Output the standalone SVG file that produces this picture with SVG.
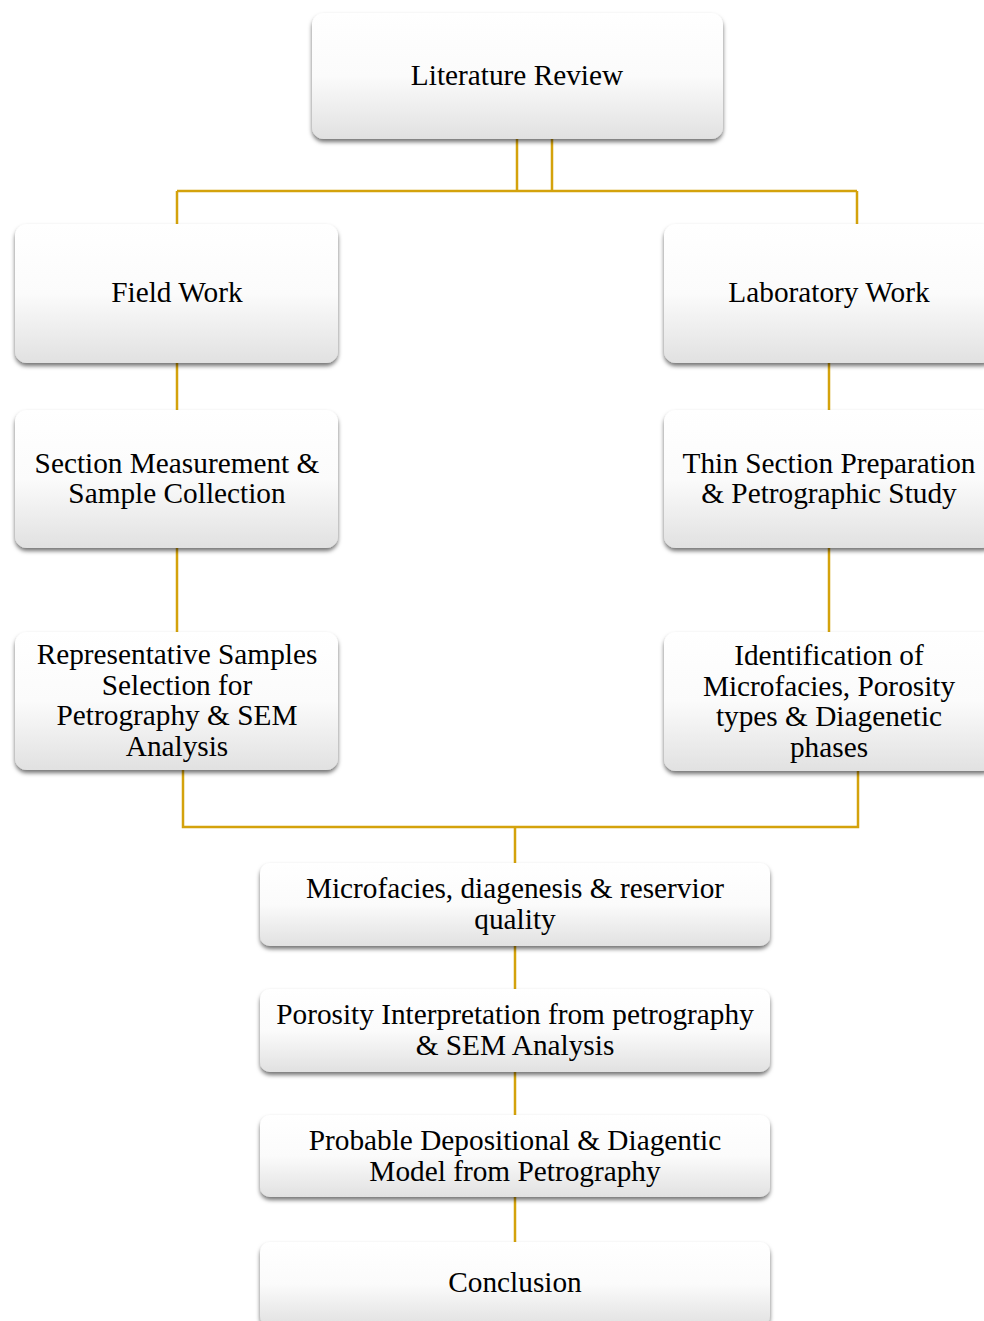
<svg xmlns="http://www.w3.org/2000/svg" width="984" height="1321" viewBox="0 0 984 1321">
<defs>
<linearGradient id="g" x1="0" y1="0" x2="0" y2="1">
<stop offset="0" stop-color="#ffffff"/>
<stop offset="0.5" stop-color="#fbfbfb"/>
<stop offset="1" stop-color="#e1e1e1"/>
</linearGradient>
<filter id="sh" x="-5%" y="-10%" width="110%" height="125%">
<feDropShadow dx="0" dy="3" stdDeviation="2" flood-color="#000" flood-opacity="0.55"/>
</filter>
</defs>
<style>
.box{fill:url(#g);filter:url(#sh);}
.t{font-family:"Liberation Serif","Times New Roman",serif;font-size:29.3px;fill:#000;text-anchor:middle;}
.c{fill:none;stroke:#D4A20C;stroke-width:2.5;}
</style>
<rect width="984" height="1321" fill="#fff"/>
<g id="connectors">
<path class="c" d="M517 139 V191 M552 139 V191 M177 191 H857 M177 191 V224 M857 191 V224"/>
<path class="c" d="M177 363 V410 M177 548 V632"/>
<path class="c" d="M829 363 V410 M829 548 V632"/>
<path class="c" d="M183 770 V827 H858 V771 M515 827 V863"/>
<path class="c" d="M515 946 V989 M515 1072 V1115 M515 1197 V1242"/>
</g>
<g id="n-lit">
<rect class="box" x="312" y="13" width="411" height="126" rx="12"/>
<text class="t" x="517" y="85">Literature Review</text>
</g>
<g id="n-field">
<rect class="box" x="15" y="224" width="323" height="139" rx="12"/>
<text class="t" x="177" y="302">Field Work</text>
</g>
<g id="n-lab">
<rect class="box" x="664" y="224" width="330" height="139" rx="12"/>
<text class="t" x="829" y="302">Laboratory Work</text>
</g>
<g id="n-section">
<rect class="box" x="15" y="410" width="323" height="138" rx="12"/>
<text class="t" x="177" y="473">Section Measurement &amp;</text>
<text class="t" x="177" y="503">Sample Collection</text>
</g>
<g id="n-thin">
<rect class="box" x="664" y="410" width="330" height="138" rx="12"/>
<text class="t" x="829" y="473">Thin Section Preparation</text>
<text class="t" x="829" y="503">&amp; Petrographic Study</text>
</g>
<g id="n-rep">
<rect class="box" x="15" y="632" width="323" height="138" rx="12"/>
<text class="t" x="177" y="664">Representative Samples</text>
<text class="t" x="177" y="694.5">Selection for</text>
<text class="t" x="177" y="725">Petrography &amp; SEM</text>
<text class="t" x="177" y="755.5">Analysis</text>
</g>
<g id="n-ident">
<rect class="box" x="664" y="632" width="330" height="139" rx="12"/>
<text class="t" x="829" y="665">Identification of</text>
<text class="t" x="829" y="695.5">Microfacies, Porosity</text>
<text class="t" x="829" y="726">types &amp; Diagenetic</text>
<text class="t" x="829" y="756.5">phases</text>
</g>
<g id="n-micro">
<rect class="box" x="260" y="863" width="510" height="83" rx="10"/>
<text class="t" x="515" y="898">Microfacies, diagenesis &amp; reservior</text>
<text class="t" x="515" y="929">quality</text>
</g>
<g id="n-poro">
<rect class="box" x="260" y="989" width="510" height="83" rx="10"/>
<text class="t" x="515" y="1024">Porosity Interpretation from petrography</text>
<text class="t" x="515" y="1055">&amp; SEM Analysis</text>
</g>
<g id="n-prob">
<rect class="box" x="260" y="1115" width="510" height="82" rx="10"/>
<text class="t" x="515" y="1150">Probable Depositional &amp; Diagentic</text>
<text class="t" x="515" y="1181">Model from Petrography</text>
</g>
<g id="n-concl">
<rect class="box" x="260" y="1242" width="510" height="84" rx="10"/>
<text class="t" x="515" y="1292">Conclusion</text>
</g>
</svg>
